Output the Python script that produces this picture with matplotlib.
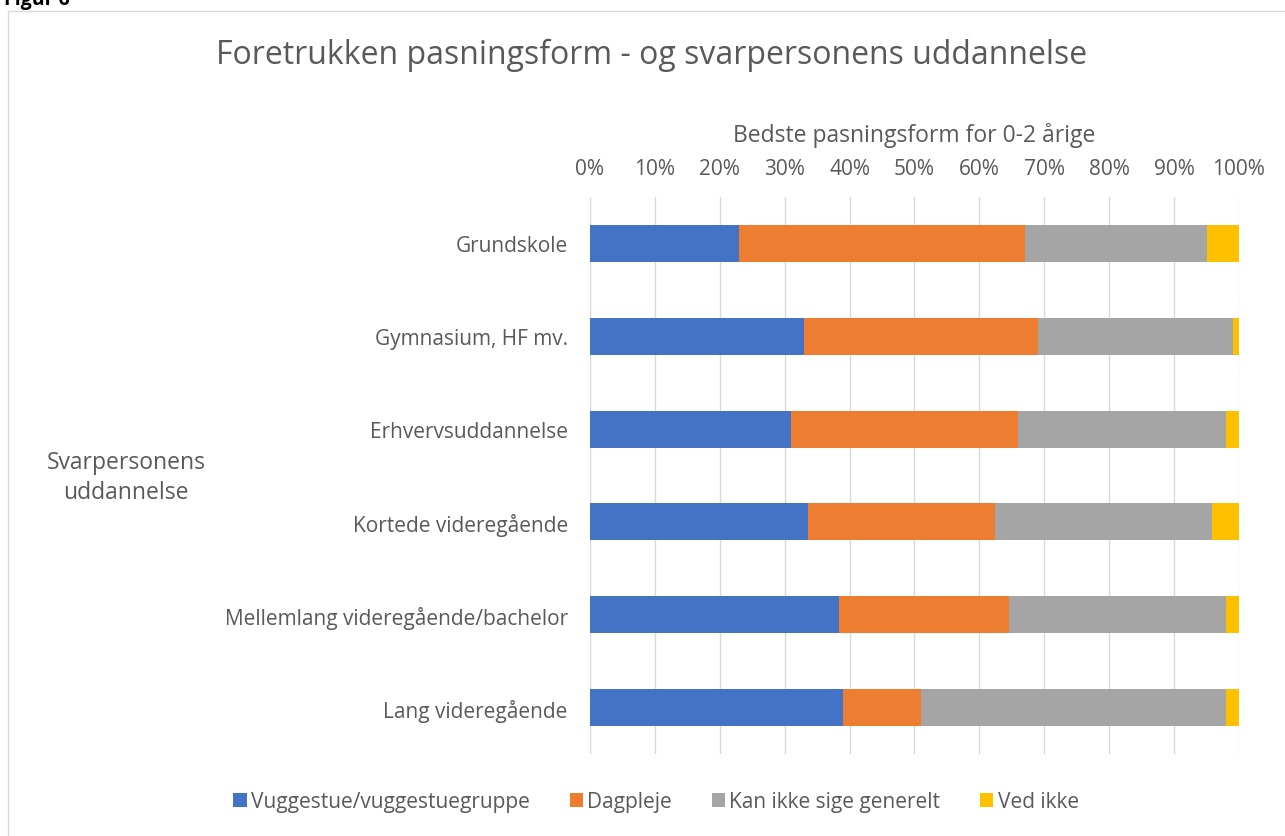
import matplotlib.pyplot as plt
import numpy as np
from matplotlib.patches import Rectangle

# data (percent)
categories = ['Grundskole', 'Gymnasium, HF mv.', 'Erhvervsuddannelse',
              'Kortede videregående', 'Mellemlang videregående/bachelor',
              'Lang videregående']
vuggestue = [23.0, 33.0, 31.0, 33.6, 38.4, 39.0]
dagpleje = [44.0, 36.0, 35.0, 28.8, 26.2, 12.0]
kan_ikke = [28.0, 30.0, 32.0, 33.5, 33.4, 47.0]
ved_ikke = [5.0, 1.0, 2.0, 4.1, 2.0, 2.0]

series = [('Vuggestue/vuggestuegruppe', vuggestue, '#4472C4'),
          ('Dagpleje', dagpleje, '#ED7D31'),
          ('Kan ikke sige generelt', kan_ikke, '#A5A5A5'),
          ('Ved ikke', ved_ikke, '#FFC000')]

plt.rcParams['font.family'] = ['Open Sans', 'DejaVu Sans']
txt = '#595959'

fig = plt.figure(figsize=(12.85, 8.37), dpi=100)
ax = fig.add_axes([590/1285, 1 - 755/837, 649/1285, 557/837])

y = np.arange(len(categories))
left = np.zeros(len(categories))
for name, vals, col in series:
    ax.barh(y, vals, left=left, height=0.4, color=col, label=name, zorder=3)
    left += np.array(vals)

ax.set_xlim(0, 100)
ax.set_ylim(len(categories) - 0.5, -0.5)
ax.set_yticks(y)
ax.set_yticklabels(categories, fontsize=15, color=txt)
ax.set_xticks(np.arange(0, 101, 10))
ax.set_xticklabels([f'{v}%' for v in range(0, 101, 10)], fontsize=15, color=txt)
ax.xaxis.tick_top()
ax.xaxis.set_label_position('top')
ax.set_xlabel('Bedste pasningsform for 0-2 årige', fontsize=16.5, color=txt, labelpad=12)
ax.tick_params(axis='x', length=0, pad=13)
ax.tick_params(axis='y', length=0, pad=16)
ax.grid(axis='x', color='#D9D9D9', linewidth=1, zorder=0)
for s in ax.spines.values():
    s.set_visible(False)

fig.text(126/1285, 1 - 478/837, 'Svarpersonens\nuddannelse', fontsize=16.5,
         color=txt, ha='center', va='center', linespacing=1.3)
fig.text(652/1285, 1 - 55/837,
         'Foretrukken pasningsform - og svarpersonens uddannelse',
         fontsize=23, color=txt, ha='center', va='center')
fig.text(0.003, 1 - 5/837, 'Figur 6', fontsize=14, fontweight='bold',
         color='black', ha='left', va='baseline')

fig.patches.append(Rectangle((8/1285, -0.01), 1.1, 1 - 12/837 + 0.01,
                             transform=fig.transFigure, fill=False,
                             edgecolor='#D9D9D9', linewidth=1))

fig.legend(loc='center', bbox_to_anchor=(656/1285, 1 - 803/837), ncol=4,
           frameon=False, fontsize=15, labelcolor=txt, handlelength=0.65,
           handleheight=0.65, handletextpad=0.2, columnspacing=1.9)

fig.savefig('out.png', dpi=100)
